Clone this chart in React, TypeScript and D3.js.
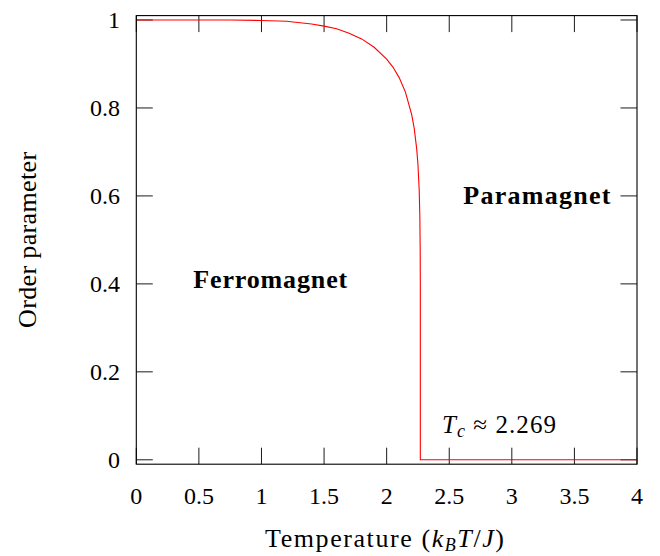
import React from "react";
import * as d3 from "d3";

// Temperature samples (k_B T / J) and order parameter
const temperature = [0, 0.25, 0.5, 0.75, 1.0, 1.2, 1.4, 1.5, 1.6, 1.7, 1.8, 1.9, 2.0, 2.05, 2.1, 2.15, 2.2, 2.22, 2.24, 2.25, 2.26, 2.265, 2.268, 2.269, 2.269, 4.0];
const orderParam = [1.0, 1.0, 1.0, 1.0, 0.999, 0.997, 0.991, 0.986, 0.980, 0.970, 0.957, 0.938, 0.911, 0.893, 0.869, 0.836, 0.785, 0.754, 0.707, 0.672, 0.613, 0.556, 0.475, 0.40, 0.0, 0.0];

const xTicks = [0, 0.5, 1, 1.5, 2, 2.5, 3, 3.5, 4];
const xTickLabels = ["0", "0.5", "1", "1.5", "2", "2.5", "3", "3.5", "4"];
const yTicks = [0, 0.2, 0.4, 0.6, 0.8, 1];
const yTickLabels = ["0", "0.2", "0.4", "0.6", "0.8", "1"];

const xTitle = "Temperature";
const yTitle = "Order parameter";
const ferroLabel = "Ferromagnet";
const paraLabel = "Paramagnet";
const tcValue = "2.269";

const W = 660;
const H = 556;
const FONT = "Liberation Serif";

export default function App() {
  const x = d3.scaleLinear().domain([0, 4]).range([136.3, 637]);
  const y = d3.scaleLinear().domain([-0.01, 1.01]).range([464.2, 15.6]);
  const [x0, x1] = x.range();
  const [yb, yt] = y.range();
  const tickLen = 16.5;

  const pts: [number, number][] = temperature.map((t, i) => [t, orderParam[i]]);
  const line = d3
    .line<[number, number]>()
    .x((d) => x(d[0]))
    .y((d) => y(d[1]));

  return (
    <svg
      width={W}
      height={H}
      viewBox={`0 0 ${W} ${H}`}
      style={{ position: "absolute", left: 0, top: 0, background: "#fff", fontFamily: FONT }}
    >
      <rect x={0} y={0} width={W} height={H} fill="#fff" />
      {/* ticks */}
      {xTicks.map((t) => (
        <g key={"xt" + t} stroke="#000" strokeWidth={0.9}>
          <line x1={x(t)} x2={x(t)} y1={yb} y2={yb - tickLen} />
          <line x1={x(t)} x2={x(t)} y1={yt} y2={yt + tickLen} />
        </g>
      ))}
      {yTicks.map((t) => (
        <g key={"yt" + t} stroke="#000" strokeWidth={0.9}>
          <line x1={x0} x2={x0 + tickLen} y1={y(t)} y2={y(t)} />
          <line x1={x1} x2={x1 - tickLen} y1={y(t)} y2={y(t)} />
        </g>
      ))}
      {/* curve */}
      <path d={line(pts) || ""} fill="none" stroke="#ff0000" strokeWidth={1.1} />
      {/* frame */}
      <rect x={x0} y={yt} width={x1 - x0} height={yb - yt} fill="none" stroke="#000" strokeWidth={1.1} />
      {/* tick labels */}
      {xTicks.map((t, i) => (
        <text key={"xl" + t} x={x(t)} y={504} textAnchor="middle" fontSize={24} fill="#000">
          {xTickLabels[i]}
        </text>
      ))}
      {yTicks.map((t, i) => (
        <text key={"yl" + t} x={120} y={y(t) + 8} textAnchor="end" fontSize={24} fill="#000">
          {yTickLabels[i]}
        </text>
      ))}
      {/* axis titles */}
      <text x={265} y={547} fontSize={26} fill="#000" textLength={239} lengthAdjust="spacing">
        {xTitle + " ("}
        <tspan fontStyle="italic">k</tspan>
        <tspan fontStyle="italic" fontSize={18} dy={4}>B</tspan>
        <tspan fontStyle="italic" dy={-4}>T</tspan>
        <tspan>/</tspan>
        <tspan fontStyle="italic">J</tspan>
        <tspan>)</tspan>
      </text>
      <text
        transform={`translate(36, ${(yt + yb) / 2}) rotate(-90)`}
        textAnchor="middle"
        fontSize={26}
        fill="#000"
        textLength={176}
        lengthAdjust="spacing"
      >
        {yTitle}
      </text>
      {/* annotations */}
      <text x={x(1.07)} y={288} textAnchor="middle" fontSize={26} fontWeight="bold" fill="#000" textLength={154} lengthAdjust="spacing">
        {ferroLabel}
      </text>
      <text x={x(3.2)} y={y(0.6) + 8} textAnchor="middle" fontSize={26} fontWeight="bold" fill="#000" textLength={147} lengthAdjust="spacing">
        {paraLabel}
      </text>
      <text x={442} y={433} fontSize={25} fill="#000" textLength={114} lengthAdjust="spacing">
        <tspan fontStyle="italic">T</tspan>
        <tspan fontStyle="italic" fontSize={18} dy={4}>c</tspan>
        <tspan dy={-4}>{" \u2248 " + tcValue}</tspan>
      </text>
    </svg>
  );
}
